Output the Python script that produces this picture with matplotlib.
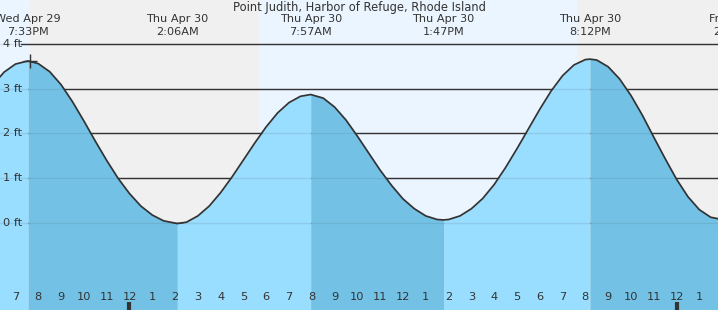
import numpy as np
import matplotlib
matplotlib.use('Agg')
import matplotlib.pyplot as plt

# hours relative to midnight Thu Apr 30, tide height in ft
t = [-6.0, -5.5, -5.0, -4.45, -4.0, -3.5, -3.0, -2.5, -2.0, -1.5, -1.0, -0.5, 0.0, 0.5, 1.0, 1.5, 2.1,
     2.5, 3.0, 3.5, 4.0, 4.5, 5.0, 5.5, 6.0, 6.5, 7.0, 7.5, 7.95,
     8.5, 9.0, 9.5, 10.0, 10.5, 11.0, 11.5, 12.0, 12.5, 13.0, 13.5, 13.78,
     14.0, 14.5, 15.0, 15.5, 16.0, 16.5, 17.0, 17.5, 18.0, 18.5, 19.0, 19.5, 20.0, 20.2,
     20.5, 21.0, 21.5, 22.0, 22.5, 23.0, 23.5, 24.0, 24.5, 25.0, 25.5, 25.9, 26.2]
h = [3.08, 3.37, 3.55, 3.62, 3.56, 3.38, 3.09, 2.71, 2.28, 1.83, 1.40, 1.00, 0.66, 0.38, 0.18, 0.05, -0.01,
     0.02, 0.16, 0.38, 0.68, 1.03, 1.41, 1.79, 2.15, 2.46, 2.69, 2.83, 2.87,
     2.79, 2.59, 2.30, 1.94, 1.56, 1.18, 0.84, 0.54, 0.32, 0.16, 0.08, 0.07,
     0.08, 0.16, 0.32, 0.55, 0.86, 1.24, 1.66, 2.10, 2.54, 2.95, 3.29, 3.53, 3.65, 3.66,
     3.64, 3.49, 3.22, 2.85, 2.41, 1.92, 1.44, 0.98, 0.59, 0.30, 0.13, 0.09, 0.08]

# high / low events
ev_t = [-4.45, 2.10, 7.95, 13.78, 20.20, 26.55]
ev_day = ['Wed Apr 29', 'Thu Apr 30', 'Thu Apr 30', 'Thu Apr 30', 'Thu Apr 30', 'Fri May 1']
ev_time = ['7:33PM', '2:06AM', '7:57AM', '1:47PM', '8:12PM', '2:33AM']

# sunset / sunrise
sunset1, sunrise, sunset2 = -4.36, 5.68, 19.63

hours = list(range(-5, 26))
hour_labels = ['7', '8', '9', '10', '11', '12', '1', '2', '3', '4', '5', '6', '7', '8', '9', '10', '11',
               '12', '1', '2', '3', '4', '5', '6', '7', '8', '9', '10', '11', '12', '1']
yticks = [0, 1, 2, 3, 4]

xmin, xmax = -5.68, 25.82
ymin, ymax = -1.94, 4.98

day_bg = '#ebf5ff'
night_bg = '#f0f0f0'
rise_c = '#99ddff'
fall_c = '#73c2e6'
ink = '#333333'

plt.rcParams['font.family'] = 'DejaVu Sans'
fig = plt.figure(figsize=(7.18, 3.10), dpi=100)
ax = fig.add_axes([0, 0, 1, 1])
ax.set_xlim(xmin, xmax)
ax.set_ylim(ymin, ymax)
for s in ax.spines.values():
    s.set_visible(False)

# day / night background
ax.axvspan(xmin, sunset1, color=day_bg, lw=0, zorder=0)
ax.axvspan(sunset1, sunrise, color=night_bg, lw=0, zorder=0)
ax.axvspan(sunrise, sunset2, color=day_bg, lw=0, zorder=0)
ax.axvspan(sunset2, xmax, color=night_bg, lw=0, zorder=0)

# grid lines
gx = 21 / 718
for y in yticks:
    ax.axhline(y, xmin=gx, xmax=1, color=ink, lw=1, zorder=1)
    ax.text(3 / 718, y, '%d ft' % y, transform=ax.get_yaxis_transform(),
            ha='left', va='center', fontsize=8.2, color=ink, zorder=5)

# water fill, rising vs falling
tt = np.array(t)
hh = np.array(h)
ext = [0] + [i for i in range(1, len(tt) - 1)
             if (hh[i] - hh[i - 1]) * (hh[i + 1] - hh[i]) < 0] + [len(tt) - 1]
for a, b in zip(ext[:-1], ext[1:]):
    c = rise_c if hh[b] > hh[a] else fall_c
    ax.fill_between(tt[a:b + 1], hh[a:b + 1], ymin, color=c, lw=0, zorder=2)
for y in yticks:
    ax.axhline(y, xmin=0, xmax=1, color=ink, lw=1, alpha=0.1, zorder=3)

ax.plot(tt, hh, color=ink, lw=1.25, zorder=4, solid_joinstyle='round')
ax.plot([sunset1], [3.62], marker='+', ms=10, mew=1, color=ink, zorder=5)

# labels
ax.text(0.5, 1 - 7 / 310, 'Point Judith, Harbor of Refuge, Rhode Island', transform=ax.transAxes,
        ha='center', va='center', fontsize=8.3, color=ink)
xt = ax.get_xaxis_transform()
for x, d, tm in zip(ev_t, ev_day, ev_time):
    ax.text(x, 1 - 19 / 310, d, transform=xt, ha='center', va='center', fontsize=8.1, color=ink)
    ax.text(x, 1 - 32 / 310, tm, transform=xt, ha='center', va='center', fontsize=8.1, color=ink)

ax.set_xticks(hours)
ax.set_yticks([])
ax.tick_params(axis='x', direction='in', length=8, width=1, color=ink, labelbottom=False)
for x, lab in zip(hours, hour_labels):
    ax.text(x, 13 / 310, lab, transform=xt, ha='center', va='center', fontsize=8.2, color=ink)
mid = [x for x, lab in zip(hours, hour_labels) if lab == '12' and x % 24 == 0]
ax.vlines(mid, 0, 8 / 310, transform=xt, color=ink, lw=3, zorder=6)

fig.savefig('out.png', dpi=100)
